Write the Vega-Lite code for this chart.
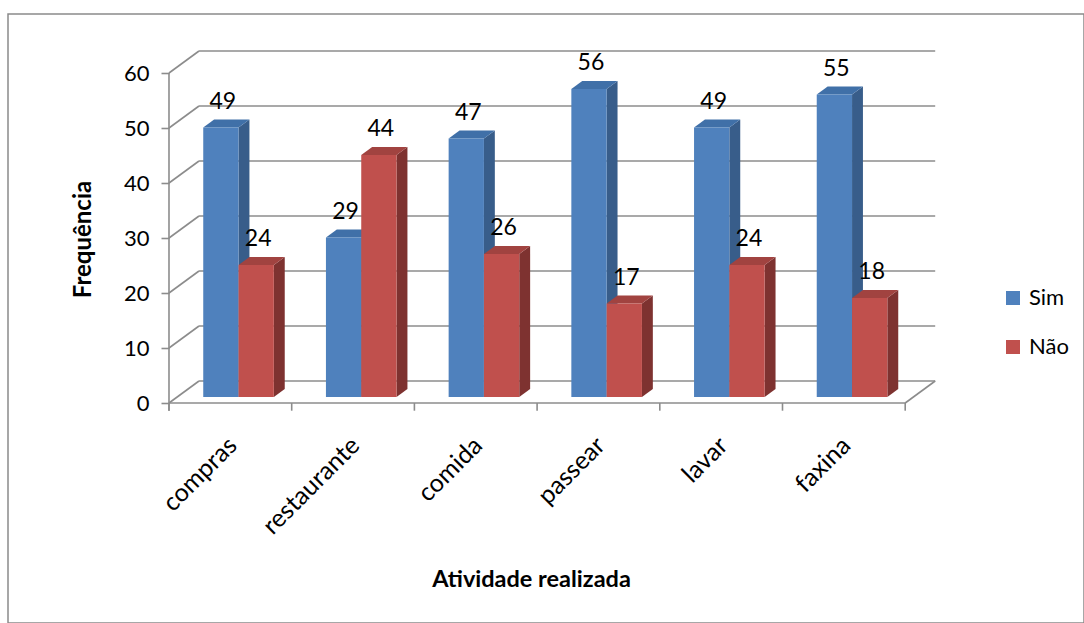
{
  "$schema": "https://vega.github.io/schema/vega-lite/v6.json",
  "width": 1076,
  "height": 609,
  "autosize": "none",
  "padding": {"left": 8, "top": 14, "right": 0, "bottom": 0},
  "background": "white",
  "config": {
    "view": {"stroke": "#8a8a8a", "strokeWidth": 1.5},
    "font": "Lato",
    "axis": {"labelFont": "Lato", "titleFont": "Lato", "domain": false, "grid": false, "ticks": false, "labels": false},
    "legend": {"labelFont": "Lato"},
    "text": {"font": "Lato"}
  },
  "layer": [
    {
      "data": {"values": [{"v": 0}, {"v": 10}, {"v": 20}, {"v": 30}, {"v": 40}, {"v": 50}, {"v": 60}]},
      "transform": [{"calculate": "datum.v + 4", "as": "vb"}],
      "layer": [
        {
          "mark": {"type": "rule", "color": "#8c8c8c", "strokeWidth": 1.6},
          "encoding": {
            "x": {"datum": 0.2445, "type": "quantitative", "scale": {"domain": [-1.3121, 7.4572], "nice": false, "zero": false}},
            "x2": {"datum": 6.2445},
            "y": {"field": "vb", "type": "quantitative", "scale": {"domain": [-40, 70.7273], "nice": false, "zero": false}}
          }
        },
        {
          "mark": {"type": "rule", "color": "#8c8c8c", "strokeWidth": 1.6},
          "encoding": {
            "x": {"datum": 0, "type": "quantitative", "scale": {"domain": [-1.3121, 7.4572], "nice": false, "zero": false},
              "axis": {"title": "Atividade realizada", "labels": false, "ticks": false, "domain": false, "grid": false,
                "titleFontSize": 23.5, "titleFontWeight": "bold", "titleColor": "#000000",
                "titleX": 523, "titleY": -44, "titleAlign": "center", "titleBaseline": "middle", "titleAnchor": "start"}},
            "x2": {"datum": 0.2445},
            "y": {"field": "v", "type": "quantitative", "scale": {"domain": [-40, 70.7273], "nice": false, "zero": false},
              "axis": {"values": [0, 10, 20, 30, 40, 50, 60], "offset": -161, "domain": false, "grid": false,
                "ticks": true, "labels": true,
                "tickSize": 8, "tickColor": "#8c8c8c", "tickWidth": 1.6,
                "labelFontSize": 22, "labelPadding": 12, "labelColor": "#000000",
                "title": "Frequência", "titleFontSize": 24, "titleFontWeight": "bold", "titleColor": "#000000",
                "titleX": -86, "titleY": 225, "titleAngle": 270, "titleAlign": "center", "titleBaseline": "middle", "titleAnchor": "start"}},
            "y2": {"field": "vb"}
          }
        }
      ]
    },
    {
      "data": {"values": [{"b": 0}, {"b": 1}, {"b": 2}, {"b": 3}, {"b": 4}, {"b": 5}, {"b": 6}]},
      "mark": {"type": "rule", "color": "#8c8c8c", "strokeWidth": 1.6},
      "encoding": {
        "x": {"field": "b", "type": "quantitative", "scale": {"domain": [-1.3121, 7.4572], "nice": false, "zero": false}},
        "y": {"datum": 0, "type": "quantitative", "scale": {"domain": [-40, 70.7273], "nice": false, "zero": false}},
        "y2": {"datum": -1.4}
      }
    },
    {
      "data": {"values": [{}]},
      "layer": [
        {
          "mark": {"type": "rule", "color": "#8c8c8c", "strokeWidth": 1.6},
          "encoding": {
            "x": {"datum": 0, "type": "quantitative", "scale": {"domain": [-1.3121, 7.4572], "nice": false, "zero": false}},
            "x2": {"datum": 6},
            "y": {"datum": 0, "type": "quantitative", "scale": {"domain": [-40, 70.7273], "nice": false, "zero": false}}
          }
        },
        {
          "mark": {"type": "rule", "color": "#8c8c8c", "strokeWidth": 1.6},
          "encoding": {
            "x": {"datum": 6, "type": "quantitative", "scale": {"domain": [-1.3121, 7.4572], "nice": false, "zero": false}},
            "x2": {"datum": 6.2445},
            "y": {"datum": 0, "type": "quantitative", "scale": {"domain": [-40, 70.7273], "nice": false, "zero": false}},
            "y2": {"datum": 4}
          }
        },
        {
          "mark": {"type": "rule", "color": "#8c8c8c", "strokeWidth": 1.6},
          "encoding": {
            "x": {"datum": 0, "type": "quantitative", "scale": {"domain": [-1.3121, 7.4572], "nice": false, "zero": false}},
            "y": {"datum": 60, "type": "quantitative", "scale": {"domain": [-40, 70.7273], "nice": false, "zero": false}},
            "y2": {"datum": -1.4}
          }
        }
      ]
    },
    {
      "data": {"values": [
        {"activity": "compras", "group": "Sim", "value": 49},
        {"activity": "compras", "group": "Não", "value": 24},
        {"activity": "restaurante", "group": "Sim", "value": 29},
        {"activity": "restaurante", "group": "Não", "value": 44},
        {"activity": "comida", "group": "Sim", "value": 47},
        {"activity": "comida", "group": "Não", "value": 26},
        {"activity": "passear", "group": "Sim", "value": 56},
        {"activity": "passear", "group": "Não", "value": 17},
        {"activity": "lavar", "group": "Sim", "value": 49},
        {"activity": "lavar", "group": "Não", "value": 24},
        {"activity": "faxina", "group": "Sim", "value": 55},
        {"activity": "faxina", "group": "Não", "value": 18}
      ]},
      "transform": [
        {"calculate": "indexof(['compras','restaurante','comida','passear','lavar','faxina'], datum.activity)", "as": "i"},
        {"calculate": "datum.group === 'Sim' ? 0 : 1", "as": "g"},
        {"calculate": "datum.i + 0.5 - 0.2877 + datum.g * 0.2877 + 0.0668", "as": "x0"},
        {"calculate": "datum.x0 + 0.2877", "as": "x1"},
        {"calculate": "1.0909", "as": "yb"},
        {"calculate": "datum.value + 1.0909", "as": "yt"}
      ],
      "layer": [
        {
          "transform": [
            {"filter": "datum.g === 0"},
            {"calculate": "[0, 1]", "as": "k"},
            {"flatten": ["k"]},
            {"calculate": "datum.x1 + datum.k * 0.0888", "as": "sx"},
            {"calculate": "datum.yb + datum.k * 1.4545", "as": "sy"},
            {"calculate": "datum.yt + datum.k * 1.4545", "as": "sy2"}
          ],
          "mark": {"type": "area", "color": "#385D8A", "orient": "vertical"},
          "encoding": {
            "x": {"field": "sx", "type": "quantitative", "scale": {"domain": [-1.3121, 7.4572], "nice": false, "zero": false}},
            "y": {"field": "sy", "type": "quantitative", "scale": {"domain": [-40, 70.7273], "nice": false, "zero": false}},
            "y2": {"field": "sy2"},
            "detail": {"field": "activity"}
          }
        },
        {
          "transform": [
            {"filter": "datum.g === 0"},
            {"calculate": "[0, 1]", "as": "k"},
            {"flatten": ["k"]},
            {"calculate": "datum.x0 + datum.k * 0.0888", "as": "tx"},
            {"calculate": "datum.x1 + datum.k * 0.0888", "as": "tx2"},
            {"calculate": "datum.yt + datum.k * 1.4545", "as": "ty"}
          ],
          "mark": {"type": "area", "color": "#4070A8", "orient": "horizontal"},
          "encoding": {
            "y": {"field": "ty", "type": "quantitative", "scale": {"domain": [-40, 70.7273], "nice": false, "zero": false}},
            "x": {"field": "tx", "type": "quantitative", "scale": {"domain": [-1.3121, 7.4572], "nice": false, "zero": false}},
            "x2": {"field": "tx2"},
            "detail": {"field": "activity"}
          }
        },
        {
          "transform": [{"filter": "datum.g === 0"}],
          "mark": {"type": "rect"},
          "encoding": {
            "x": {"field": "x0", "type": "quantitative", "scale": {"domain": [-1.3121, 7.4572], "nice": false, "zero": false}},
            "x2": {"field": "x1"},
            "y": {"field": "yb", "type": "quantitative", "scale": {"domain": [-40, 70.7273], "nice": false, "zero": false}},
            "y2": {"field": "yt"},
            "color": {"field": "group", "type": "nominal",
              "scale": {"domain": ["Sim", "Não"], "range": ["#4F81BD", "#C0504D"]},
              "legend": {"title": null, "orient": "none", "legendX": 994, "legendY": 273, "padding": 0,
                "symbolType": "square", "symbolSize": 196, "symbolStrokeWidth": 0, "symbolOpacity": 1,
                "labelFontSize": 22, "labelColor": "#000000", "labelOffset": 5, "rowPadding": 27}}
          }
        },
        {
          "transform": [
            {"filter": "datum.g === 1"},
            {"calculate": "[0, 1]", "as": "k"},
            {"flatten": ["k"]},
            {"calculate": "datum.x1 + datum.k * 0.0888", "as": "sx"},
            {"calculate": "datum.yb + datum.k * 1.4545", "as": "sy"},
            {"calculate": "datum.yt + datum.k * 1.4545", "as": "sy2"}
          ],
          "mark": {"type": "area", "color": "#7E3230", "orient": "vertical"},
          "encoding": {
            "x": {"field": "sx", "type": "quantitative", "scale": {"domain": [-1.3121, 7.4572], "nice": false, "zero": false}},
            "y": {"field": "sy", "type": "quantitative", "scale": {"domain": [-40, 70.7273], "nice": false, "zero": false}},
            "y2": {"field": "sy2"},
            "detail": {"field": "activity"}
          }
        },
        {
          "transform": [
            {"filter": "datum.g === 1"},
            {"calculate": "[0, 1]", "as": "k"},
            {"flatten": ["k"]},
            {"calculate": "datum.x0 + datum.k * 0.0888", "as": "tx"},
            {"calculate": "datum.x1 + datum.k * 0.0888", "as": "tx2"},
            {"calculate": "datum.yt + datum.k * 1.4545", "as": "ty"}
          ],
          "mark": {"type": "area", "color": "#A14340", "orient": "horizontal"},
          "encoding": {
            "y": {"field": "ty", "type": "quantitative", "scale": {"domain": [-40, 70.7273], "nice": false, "zero": false}},
            "x": {"field": "tx", "type": "quantitative", "scale": {"domain": [-1.3121, 7.4572], "nice": false, "zero": false}},
            "x2": {"field": "tx2"},
            "detail": {"field": "activity"}
          }
        },
        {
          "transform": [{"filter": "datum.g === 1"}],
          "mark": {"type": "rect"},
          "encoding": {
            "x": {"field": "x0", "type": "quantitative", "scale": {"domain": [-1.3121, 7.4572], "nice": false, "zero": false}},
            "x2": {"field": "x1"},
            "y": {"field": "yb", "type": "quantitative", "scale": {"domain": [-40, 70.7273], "nice": false, "zero": false}},
            "y2": {"field": "yt"},
            "color": {"field": "group", "type": "nominal",
              "scale": {"domain": ["Sim", "Não"], "range": ["#4F81BD", "#C0504D"]},
              "legend": {"title": null, "orient": "none", "legendX": 994, "legendY": 273, "padding": 0,
                "symbolType": "square", "symbolSize": 196, "symbolStrokeWidth": 0, "symbolOpacity": 1,
                "labelFontSize": 22, "labelColor": "#000000", "labelOffset": 5, "rowPadding": 27}}
          }
        },
        {
          "transform": [
            {"calculate": "(datum.x0 + datum.x1) / 2 + 0.016", "as": "lx"},
            {"calculate": "datum.yt + 4.7", "as": "ly"}
          ],
          "mark": {"type": "text", "fontSize": 23, "color": "#000000", "align": "center", "baseline": "middle"},
          "encoding": {
            "x": {"field": "lx", "type": "quantitative", "scale": {"domain": [-1.3121, 7.4572], "nice": false, "zero": false}},
            "y": {"field": "ly", "type": "quantitative", "scale": {"domain": [-40, 70.7273], "nice": false, "zero": false}},
            "text": {"field": "value", "type": "quantitative"}
          }
        },
        {
          "transform": [
            {"filter": "datum.g === 0"},
            {"calculate": "datum.i + 0.52", "as": "cx"},
            {"calculate": "-7", "as": "cy"}
          ],
          "mark": {"type": "text", "fontSize": 25, "color": "#000000", "align": "right", "baseline": "middle", "angle": 315},
          "encoding": {
            "x": {"field": "cx", "type": "quantitative", "scale": {"domain": [-1.3121, 7.4572], "nice": false, "zero": false}},
            "y": {"field": "cy", "type": "quantitative", "scale": {"domain": [-40, 70.7273], "nice": false, "zero": false}},
            "text": {"field": "activity", "type": "nominal"}
          }
        }
      ]
    }
  ]
}
